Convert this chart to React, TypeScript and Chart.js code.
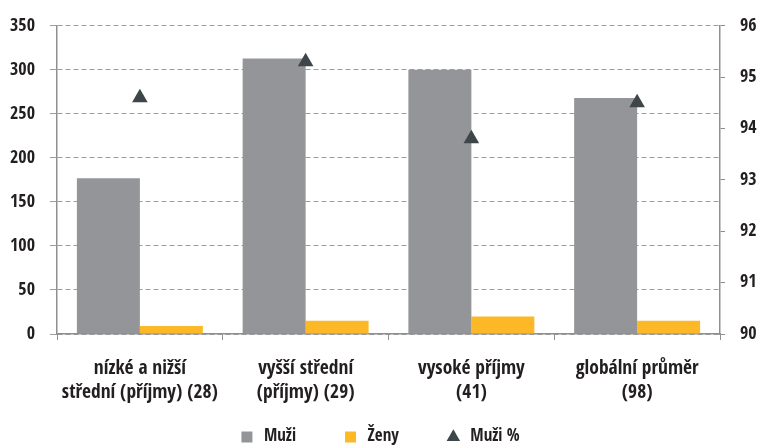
import React, { useEffect, useRef } from "react";
import { Chart, registerables } from "chart.js";

Chart.register(...registerables);

const categories: string[][] = [
  ["nízké a nižší", "střední (příjmy) (28)"],
  ["vyšší střední", "(příjmy) (29)"],
  ["vysoké příjmy", "(41)"],
  ["globální průměr", "(98)"],
];
const muzi = [177, 313, 300, 268];
const zeny = [9, 15, 20, 15];
const muziPct = [94.6, 95.3, 93.8, 94.5];

const seriesLabels = ["Muži", "Ženy", "Muži %"];
const leftAxis = { min: 0, max: 350, step: 50 };
const rightAxis = { min: 90, max: 96, step: 1 };

const FONT = "'Open Sans Condensed', 'Open Sans', sans-serif";
const WEIGHT = "800";
const GRAY = "#939598";
const YELLOW = "#fcb827";
const DARK = "#3f4649";
const GRID = "#9d9d9d";
const AXIS = "#8f8f8f";
const TEXT = "#231f20";

const LEGEND_PAD = 46;
const LEGEND_FONT = 17;
const LEGEND_HEIGHT = 37;
const LEGEND_TEXT_Y = 437;

const legendShift = {
  id: "legendShift",
  afterLayout(chart: any) {
    const lg = chart.legend;
    if (!lg) return;
    const currentCenter = lg.top + LEGEND_PAD + LEGEND_FONT / 2;
    const d = LEGEND_TEXT_Y - currentCenter;
    lg.top += d;
    lg.bottom = chart.height;
  },
};

export default function App() {
  const ref = useRef<HTMLCanvasElement | null>(null);

  useEffect(() => {
    if (!ref.current) return;
    const chart = new Chart(ref.current, {
      type: "bar",
      data: {
        labels: categories,
        datasets: [
          {
            type: "bar",
            label: seriesLabels[0],
            data: muzi,
            backgroundColor: GRAY,
            yAxisID: "y",
            order: 1,
            pointStyle: "rect",
            categoryPercentage: 0.76,
            barPercentage: 1,
          } as any,
          {
            type: "bar",
            label: seriesLabels[1],
            data: zeny,
            backgroundColor: YELLOW,
            yAxisID: "y",
            order: 1,
            pointStyle: "rect",
            categoryPercentage: 0.76,
            barPercentage: 1,
          } as any,
          {
            type: "line",
            label: seriesLabels[2],
            data: muziPct,
            yAxisID: "y1",
            showLine: false,
            order: 0,
            pointStyle: "triangle",
            pointRadius: 9,
            pointHoverRadius: 9,
            backgroundColor: DARK,
            borderColor: DARK,
            pointBackgroundColor: DARK,
            pointBorderColor: DARK,
            pointBorderWidth: 0,
          } as any,
        ],
      },
      options: {
        animation: false,
        responsive: true,
        maintainAspectRatio: false,
        layout: { padding: { top: 22, left: 0, right: 0, bottom: 0 } },
        plugins: {
          tooltip: { enabled: false },
          legend: {
            position: "bottom",
            maxHeight: LEGEND_HEIGHT,
            labels: {
              usePointStyle: true,
              boxHeight: 11,
              padding: LEGEND_PAD,
              color: TEXT,
              sort: (a: any, b: any) => a.datasetIndex - b.datasetIndex,
              font: { family: FONT, size: LEGEND_FONT, weight: WEIGHT },
            },
          } as any,
        },
        scales: {
          x: {
            offset: true,
            grid: {
              offset: true,
              drawOnChartArea: false,
              drawTicks: true,
              tickLength: 6,
              color: AXIS,
              lineWidth: 1,
            },
            border: { color: AXIS, width: 1.5 },
            ticks: {
              color: TEXT,
              padding: 17,
              maxRotation: 0,
              autoSkip: false,
              font: { family: FONT, size: 19.5, weight: WEIGHT, lineHeight: 1.23 },
            },
            afterFit: (s: any) => {
              s.height = 446 - 22 - 312 - LEGEND_HEIGHT;
            },
          },
          y: {
            position: "left",
            min: leftAxis.min,
            max: leftAxis.max,
            ticks: {
              stepSize: leftAxis.step,
              color: TEXT,
              padding: 15,
              font: { family: FONT, size: 18, weight: WEIGHT },
            },
            grid: { color: GRID, lineWidth: 1, tickLength: 7 },
            border: { color: AXIS, width: 1.5, dash: [5, 3] },
            afterFit: (s: any) => {
              s.width = 57;
            },
          },
          y1: {
            position: "right",
            min: rightAxis.min,
            max: rightAxis.max,
            ticks: {
              stepSize: rightAxis.step,
              color: TEXT,
              padding: 15,
              font: { family: FONT, size: 18, weight: WEIGHT },
            },
            grid: { drawOnChartArea: false, color: AXIS, tickLength: 5 },
            border: { color: AXIS, width: 1.5 },
            afterFit: (s: any) => {
              s.width = 38;
            },
          },
        },
      },
      plugins: [legendShift],
    });
    return () => chart.destroy();
  }, []);

  return (
    <div style={{ position: "fixed", left: 0, top: 0, width: 758, height: 446, background: "#fff" }}>
      <canvas ref={ref} />
    </div>
  );
}
